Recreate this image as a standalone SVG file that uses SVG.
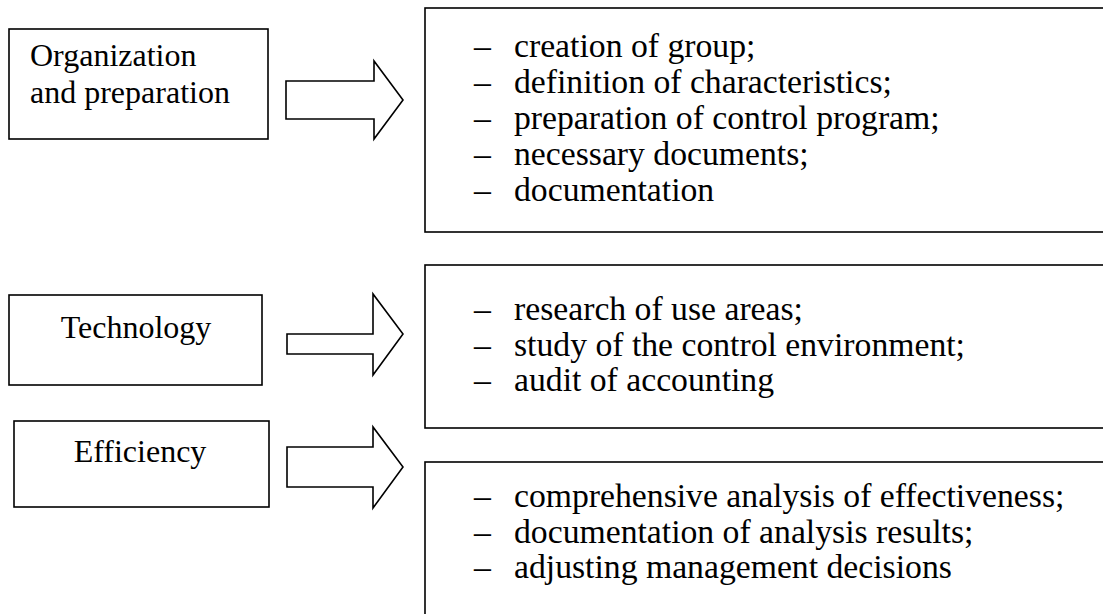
<svg xmlns="http://www.w3.org/2000/svg" width="1103" height="614" viewBox="0 0 1103 614">
<style>
.box{fill:#fff;stroke:#000;stroke-width:1.6}
.arr{fill:#fff;stroke:#000;stroke-width:1.6;stroke-linejoin:miter}
.lt{font-family:"Liberation Serif","Times New Roman",serif;font-size:32px;fill:#000}
.rt{font-family:"Liberation Serif","Times New Roman",serif;font-size:33.7px;fill:#000}
</style>
<rect width="1103" height="614" fill="#fff"/>
<g id="org">
<rect class="box" x="9" y="29" width="259" height="110"/>
<text class="lt" x="30" y="66">Organization</text>
<text class="lt" x="30" y="103">and preparation</text>
</g>
<g id="tech">
<rect class="box" x="9" y="295" width="253" height="90"/>
<text class="lt" x="136" y="338" text-anchor="middle">Technology</text>
</g>
<g id="eff">
<rect class="box" x="14" y="421" width="255" height="86"/>
<text class="lt" x="140" y="462" text-anchor="middle">Efficiency</text>
</g>
<g id="list1">
<rect class="box" x="425" y="8" width="700" height="224"/>
<text class="rt" x="474" y="57">–</text><text class="rt" x="514" y="57">creation of group;</text>
<text class="rt" x="474" y="93">–</text><text class="rt" x="514" y="93">definition of characteristics;</text>
<text class="rt" x="474" y="129">–</text><text class="rt" x="514" y="129">preparation of control program;</text>
<text class="rt" x="474" y="165">–</text><text class="rt" x="514" y="165">necessary documents;</text>
<text class="rt" x="474" y="201">–</text><text class="rt" x="514" y="201">documentation</text>
</g>
<g id="list2">
<rect class="box" x="425" y="265" width="700" height="163"/>
<text class="rt" x="474" y="320">–</text><text class="rt" x="514" y="320">research of use areas;</text>
<text class="rt" x="474" y="356">–</text><text class="rt" x="514" y="356">study of the control environment;</text>
<text class="rt" x="474" y="391">–</text><text class="rt" x="514" y="391">audit of accounting</text>
</g>
<g id="list3">
<rect class="box" x="425" y="462" width="700" height="200"/>
<text class="rt" x="474" y="507">–</text><text class="rt" x="514" y="507">comprehensive analysis of effectiveness;</text>
<text class="rt" x="474" y="543">–</text><text class="rt" x="514" y="543">documentation of analysis results;</text>
<text class="rt" x="474" y="578">–</text><text class="rt" x="514" y="578">adjusting management decisions</text>
</g>
<g id="connectors">
<polygon class="arr" points="286,81 374,81 374,61 403,100 374,139 374,119 286,119"/>
<polygon class="arr" points="287,334 373,334 373,294 403,334 373,375 373,354 287,354"/>
<polygon class="arr" points="287,447 373,447 373,427 403,467 373,508 373,487 287,487"/>
</g>
</svg>
